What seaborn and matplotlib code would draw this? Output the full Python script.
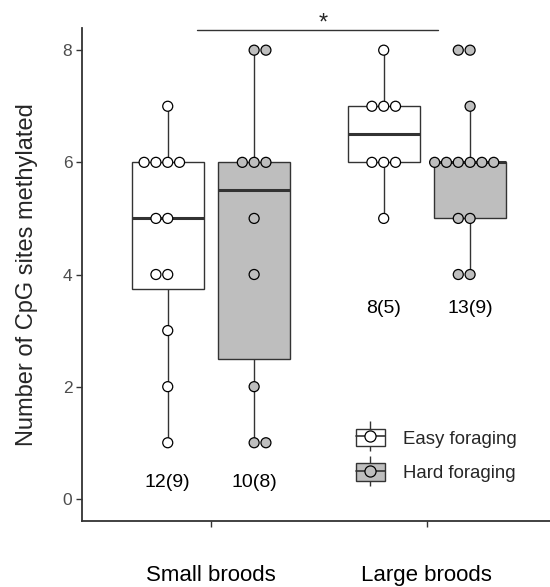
import pandas as pd
import numpy as np
import matplotlib
matplotlib.use("Agg")
import matplotlib.pyplot as plt
import seaborn as sns
from matplotlib.lines import Line2D
from matplotlib.patches import Patch
from matplotlib.legend_handler import HandlerTuple

sns.set_style("white")
plt.rcParams["font.family"] = ["Liberation Sans", "DejaVu Sans"]

# ---------- data ----------
broods = ["Small broods", "Large broods"]
foraging = ["Easy foraging", "Hard foraging"]
small_easy = [7, 6, 6, 6, 6, 5, 5, 4, 4, 3, 2, 1]
small_hard = [8, 8, 6, 6, 6, 5, 4, 2, 1, 1]
large_easy = [8, 7, 7, 7, 6, 6, 6, 5]
large_hard = [8, 8, 7, 6, 6, 6, 6, 6, 6, 5, 5, 4, 4]
n_labels = ["12(9)", "10(8)", "8(5)", "13(9)"]
n_label_y = [0.3, 0.3, 3.4, 3.4]

groups = [(broods[0], foraging[0], small_easy), (broods[0], foraging[1], small_hard),
          (broods[1], foraging[0], large_easy), (broods[1], foraging[1], large_hard)]
df = pd.DataFrame([(b, f, v) for b, f, vals in groups for v in vals],
                  columns=["brood", "forage", "cpg"])

pal = {"Easy foraging": "white", "Hard foraging": "#bebebe"}
dark = "#333333"

fig = plt.figure(figsize=(5.5, 5.87), dpi=100)
ax = fig.add_axes([82 / 550, 1 - 520.7 / 587, 1 - 82 / 550, (520.7 - 28.3) / 587])

sns.boxplot(data=df, x="brood", y="cpg", hue="forage", order=broods, hue_order=foraging,
            palette=pal, width=0.8, gap=0.167, whis=1.5, showfliers=False, showcaps=False,
            linecolor=dark, linewidth=1.0, medianprops=dict(linewidth=2.2, color=dark),
            legend=False, ax=ax)
sns.swarmplot(data=df, x="brood", y="cpg", hue="forage", order=broods, hue_order=foraging,
              palette=pal, dodge=True, size=7.2, edgecolor="black", linewidth=0.9,
              legend=False, zorder=3, ax=ax)

# sample sizes under each box
offsets = [-0.2, 0.2, -0.2, 0.2]
centers = [0, 0, 1, 1]
for c, o, lab, yy in zip(centers, offsets, n_labels, n_label_y):
    ax.text(c + o, yy, lab, ha="center", va="center", fontsize=14, color="black")

# significance bar
ax.plot([-0.065, 1.05], [8.36, 8.36], color=dark, linewidth=1.0, clip_on=False)
ax.text(0.52, 8.28, "*", ha="center", va="bottom", fontsize=17, clip_on=False)

ax.set_xlim(-0.597, 1.57)
ax.set_ylim(-0.39, 8.39)
ax.set_yticks([0, 2, 4, 6, 8])
ax.set_xlabel("")
ax.set_ylabel("Number of CpG sites methylated", fontsize=17, labelpad=18)
ax.tick_params(axis="y", labelsize=12.5, labelcolor="#4d4d4d", length=4, width=1,
               color=dark, pad=3, left=True)
ax.tick_params(axis="x", labelsize=16, labelcolor="black", length=4, width=1,
               color=dark, pad=28, bottom=True)
sns.despine(ax=ax)
for s in ["left", "bottom"]:
    ax.spines[s].set_color(dark)
    ax.spines[s].set_linewidth(1.3)

# legend with box + dot glyphs
handles = []
for f in foraging:
    whisk = Line2D([], [], color=dark, marker="|", markersize=22, markeredgewidth=1,
                   linestyle="none")
    box = Patch(facecolor=pal[f], edgecolor=dark, linewidth=1)
    med = Line2D([], [], color=dark, linewidth=1.2)
    dot = Line2D([], [], marker="o", markerfacecolor=pal[f], markeredgecolor="black",
                 markersize=8, markeredgewidth=0.9, linestyle="none")
    handles.append((whisk, box, med, dot))
fig.legend(handles, foraging, handler_map={tuple: HandlerTuple(ndivide=1, pad=0)},
           loc="center left", bbox_to_anchor=(356 / 550, 1 - 455.5 / 587),
           frameon=False, fontsize=13.4, handlelength=1.55, handleheight=1.05,
           handletextpad=1.0, labelspacing=0.85, borderpad=0, borderaxespad=0)

plt.savefig("out.png", dpi=100)
plt.close()
